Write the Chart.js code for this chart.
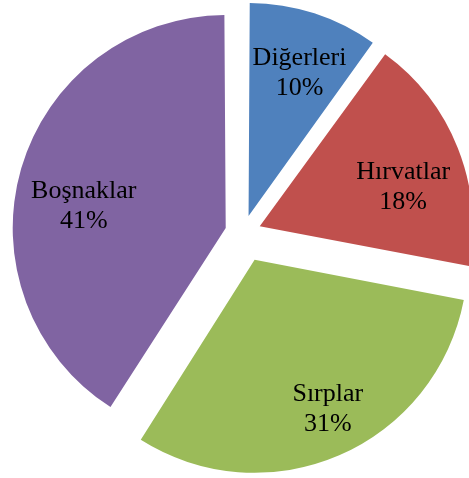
<!DOCTYPE html>
<html>
<head>
<meta charset="utf-8">
<title>Pie</title>
<script src="https://cdn.jsdelivr.net/npm/chart.js@4/dist/chart.umd.min.js"></script>
<style>
  html, body { margin: 0; padding: 0; background: #fff; }
  #wrap { width: 469px; height: 478px; }
</style>
</head>
<body>
<div id="wrap"><canvas id="pie_chart"></canvas></div>
<script>
const labels = ["Diğerleri", "Hırvatlar", "Sırplar", "Boşnaklar"];
const percents = [10, 18, 31, 41];
const sliceColors = ["#4F81BD", "#C0504D", "#9BBB59", "#8064A2"];

const pieRadius = 213;
// chart.js moves an exploded slice by offset / 4
const sliceOffsets = [72, 72, 117, 72];
// label spot: turn away from the slice middle (deg) and share of the radius
const labelTurn = [2.6, 9, -1.7, -10.3];
const labelDist = [0.68, 0.69, 0.81, 0.67];

// chart.js also grows narrow exploded slices a bit, undo that
const keepRadius = {
  id: "keepRadius",
  beforeDatasetsDraw(chart) {
    chart.getDatasetMeta(0).data.forEach((arc, i) => {
      const fix = 1 - Math.sin(Math.min(Math.PI, arc.circumference));
      arc.outerRadius = pieRadius - sliceOffsets[i] / 4 * fix;
    });
  }
};

const sliceLabels = {
  id: "sliceLabels",
  afterDatasetsDraw(chart) {
    const ctx = chart.ctx;
    const total = percents.reduce((a, b) => a + b, 0);
    ctx.save();
    ctx.font = '26px "Liberation Serif", "Times New Roman", serif';
    ctx.fillStyle = "#000";
    ctx.textAlign = "center";
    ctx.textBaseline = "alphabetic";
    chart.getDatasetMeta(0).data.forEach((arc, i) => {
      const mid = (arc.startAngle + arc.endAngle) / 2;
      const shift = sliceOffsets[i] / 4;
      const ax = arc.x + Math.cos(mid) * shift;
      const ay = arc.y + Math.sin(mid) * shift;
      const a = mid + labelTurn[i] * Math.PI / 180;
      const r = pieRadius * labelDist[i];
      const x = ax + Math.cos(a) * r;
      const y = ay + Math.sin(a) * r;
      ctx.fillText(labels[i], x, y - 15);
      ctx.fillText(Math.round(percents[i] / total * 100) + "%", x, y + 15);
    });
    ctx.restore();
  }
};

var pie_canvas = document.getElementById("pie_chart");

var pieChart = new Chart(pie_canvas, {
  type: "pie",
  data: {
    labels: labels,
    datasets: [
      {
        data: percents,
        backgroundColor: sliceColors,
        borderWidth: 0,
        offset: sliceOffsets,
        radius: pieRadius,
      },
    ],
  },
  options: {
    responsive: true,
    maintainAspectRatio: false,
    animation: false,
    devicePixelRatio: 1,
    layout: { padding: { left: 17, right: 0, top: 0, bottom: 12 } },
    plugins: {
      legend: { display: false },
      tooltip: { enabled: false },
    },
  },
  plugins: [keepRadius, sliceLabels],
});
</script>
</body>
</html>
